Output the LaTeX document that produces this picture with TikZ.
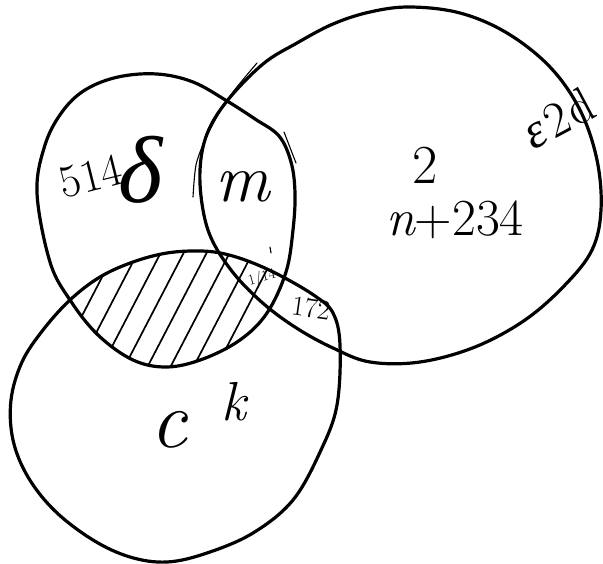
\documentclass[tikz,border=0pt]{standalone}
\usepackage{fontspec}
\newfontfamily\greekfont{Liberation Serif}
\usetikzlibrary{positioning}
% hand-drawn outlines, in pixel coordinates
\newcommand\upperleftset{plot[smooth cycle,tension=0.6] coordinates {(37,193) (45,145) (62,112) (85,90) (118,77) (157,74) (193,82) (227,101) (255,119) (279,136) (291,162) (295,193) (293,230) (286,272) (267,313) (240,340) (203,359) (167,367) (133,360) (98,335) (70,300) (50,262)}}
\newcommand\rightset{plot[smooth cycle,tension=0.6] coordinates {(410,7) (460,13) (507,33) (550,67) (580,110) (597,160) (601,210) (592,250) (565,285) (525,320) (475,347) (420,362) (370,362) (333,348) (298,329) (265,305) (235,275) (213,242) (203,210) (200,170) (207,134) (227,101) (263,64) (297,43) (333,24) (370,12)}}
\newcommand\lowerset{plot[smooth cycle,tension=0.6] coordinates {(100,277) (133,262) (167,253) (200,251) (225,254) (253,263) (283,277) (315,296) (333,313) (340,345) (337,405) (321,450) (293,500) (253,533) (207,553) (167,562) (130,557) (93,540) (55,511) (28,477) (13,440) (11,400) (22,362) (43,330) (70,300)}}

\begin{document}
\begin{tikzpicture}[x=1pt,y=-1pt,
    outline/.style={line width=3.2pt,line join=round},
    hatch/.style={line width=1.7pt},
    thinstroke/.style={line width=1.1pt,line cap=round},
    lbl/.style={inner sep=0pt}
  ]
  \useasboundingbox (0,0) rectangle (603,564);

  % hatched overlap
  \begin{scope}
    \clip \upperleftset;
    \clip \lowerset;
    \foreach \x in {85,108,...,270}
      \draw[hatch] (\x-40,387) -- (\x+40,233);
  \end{scope}

  \draw[outline] \upperleftset;
  \draw[outline] \rightset;
  \draw[outline] \lowerset;

  % loose pen strokes
  \draw[thinstroke] plot[smooth] coordinates {(193,197) (196,165) (205,140) (218,115) (233,92) (257,63)};
  \draw[thinstroke] (284,132) -- (296,163);
  \draw[thinstroke] (270,247) -- (271,253);

  \node[lbl,rotate=14] (fivefourteen) at (91,176) {\fontsize{46}{46}\selectfont 514};
  \node[lbl] (deltasym) at (141,170) {\fontsize{95}{95}\selectfont\greekfont\itshape δ};
  \node[lbl] (msym) at (243,187) {\fontsize{68}{68}\selectfont\itshape m};
  \node[lbl] (twosym) at (425,165) {\fontsize{55}{55}\selectfont 2};
  \node[lbl] (nsum) at (455,220) {\fontsize{52}{52}\selectfont\itshape n\upshape+234};
  \node[lbl,rotate=28] (edgelbl) at (558,118) {\fontsize{50}{50}\selectfont{\greekfont\itshape ε}\kern4pt 2\kern2pt d};
  \node[lbl,rotate=15] (fraclbl) at (262,278) {\fontsize{15}{15}\selectfont 1/14};
  \node[lbl,rotate=-8] (onesevtwo) at (311,308) {\fontsize{28}{28}\selectfont 172};
  \node[lbl] (csym) at (169,430) {\fontsize{82}{82}\selectfont\itshape c};
  \node[lbl] (ksym) at (234,402) {\fontsize{55}{55}\selectfont\itshape k};
\end{tikzpicture}
\end{document}
